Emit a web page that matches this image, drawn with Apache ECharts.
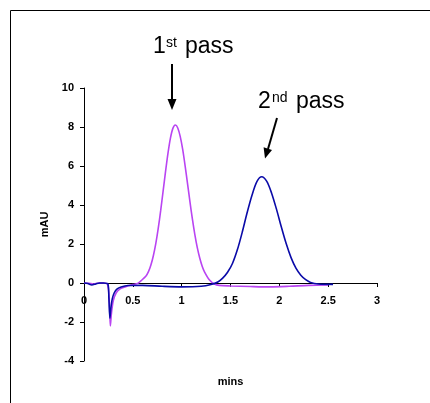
<!DOCTYPE html>
<html>
<head>
<meta charset="utf-8">
<script src="https://cdn.jsdelivr.net/npm/echarts@6/dist/echarts.min.js"></script>
<style>
  html, body { margin: 0; padding: 0; background: #fff; }
  #chart { width: 430px; height: 403px; }
</style>
</head>
<body>
<div id="chart"></div>
<script>
// 1st pass (magenta) trace, [mins, mAU]
const firstPass = [
  [0, 0], [0.05, -0.02], [0.1, -0.05], [0.15, 0], [0.2, 0], [0.24, -0.05],
  [0.26, -1.0], [0.27, -2.2], [0.28, -1.6], [0.3, -0.9], [0.33, -0.5], [0.37, -0.3],
  [0.42, -0.2], [0.5, -0.08], [0.55, -0.02], [0.585, 0.12], [0.635, 0.36], [0.66, 0.58],
  [0.685, 0.92], [0.71, 1.4], [0.735, 2.02], [0.76, 2.8], [0.785, 3.71], [0.81, 4.71],
  [0.835, 5.72], [0.86, 6.66], [0.885, 7.43], [0.91, 7.93], [0.935, 8.1], [0.96, 7.95],
  [0.985, 7.52], [1.01, 6.86], [1.035, 6.02], [1.06, 5.1], [1.085, 4.16], [1.11, 3.27],
  [1.135, 2.48], [1.16, 1.81], [1.185, 1.28], [1.21, 0.86], [1.235, 0.56], [1.285, 0.15],
  [1.335, -0.05], [1.385, -0.12], [1.5, -0.15], [1.7, -0.18], [1.9, -0.2], [2.1, -0.17],
  [2.3, -0.12], [2.5, -0.1]
];
// 2nd pass (blue) trace
const secondPass = [
  [0, 0], [0.04, -0.03], [0.08, -0.1], [0.12, -0.05], [0.16, 0], [0.2, 0],
  [0.245, -0.05], [0.255, -0.8], [0.265, -1.8], [0.275, -1.3], [0.29, -0.8], [0.31, -0.5],
  [0.34, -0.3], [0.38, -0.2], [0.45, -0.13], [0.6, -0.12], [0.8, -0.17], [1.0, -0.2],
  [1.2, -0.17], [1.3, -0.08], [1.37, 0.05], [1.42, 0.25], [1.47, 0.55], [1.52, 1.0],
  [1.57, 1.7], [1.62, 2.6], [1.67, 3.6], [1.72, 4.5], [1.77, 5.2], [1.82, 5.45],
  [1.87, 5.22], [1.92, 4.62], [1.97, 3.8], [2.02, 2.88], [2.07, 2.02], [2.12, 1.3],
  [2.17, 0.76], [2.22, 0.4], [2.27, 0.17], [2.32, 0.03], [2.4, -0.05], [2.55, -0.07]
];

const chart = echarts.init(document.getElementById('chart'));
const font = 'Liberation Sans, Arial, sans-serif';
const txt = (x, y, text, size) => ({
  type: 'text', left: x, top: y,
  style: { text: text, font: size + 'px ' + font, fill: '#000' }
});

chart.setOption({
  animation: false,
  grid: { left: 84, right: 53, top: 88, bottom: 42, outerBoundsMode: 'none' },
  xAxis: {
    type: 'value', min: 0, max: 3, interval: 0.5,
    // axis sits on y = 0 (78px above the grid bottom)
    offset: -78,
    name: 'mins', nameLocation: 'middle', nameGap: 93,
    nameTextStyle: { fontFamily: font, fontWeight: 'bold', fontSize: 11, color: '#000' },
    axisLine: { onZero: false, lineStyle: { color: '#000', width: 1 } },
    axisTick: { length: 4, lineStyle: { color: '#000' } },
    axisLabel: { margin: 12, fontFamily: font, fontWeight: 'bold', fontSize: 11, color: '#000' },
    splitLine: { show: false }
  },
  yAxis: {
    type: 'value', min: -4, max: 10, interval: 2,
    name: 'mAU', nameLocation: 'middle', nameGap: 27,
    nameTextStyle: { fontFamily: font, fontWeight: 'bold', fontSize: 11, color: '#000' },
    axisLine: { show: true, lineStyle: { color: '#000', width: 1 } },
    axisTick: { show: true, length: 4, lineStyle: { color: '#000' } },
    axisLabel: { margin: 10, fontFamily: font, fontWeight: 'bold', fontSize: 11, color: '#000' },
    splitLine: { show: false }
  },
  series: [
    {
      name: '1st pass', type: 'line', data: firstPass, smooth: 0.3, showSymbol: false,
      lineStyle: { color: '#b944f2', width: 1.6 }, z: 2
    },
    {
      name: '2nd pass', type: 'line', data: secondPass, smooth: 0.3, showSymbol: false,
      lineStyle: { color: '#0a0aa8', width: 1.6 }, z: 3
    }
  ],
  graphic: [
    { type: 'rect', shape: { x: 10.5, y: 10.5, width: 440, height: 420 },
      style: { fill: 'none', stroke: '#000', lineWidth: 1 } },
    txt(153, 35, '1', 23), txt(166, 36, 'st', 14), txt(185, 35, 'pass', 23),
    txt(258, 90, '2', 23), txt(272, 91, 'nd', 14), txt(296, 90, 'pass', 23),
    { type: 'line', shape: { x1: 172, y1: 64, x2: 172, y2: 100 },
      style: { stroke: '#000', lineWidth: 2 } },
    { type: 'polygon', shape: { points: [[167.5, 99], [176.5, 99], [172, 110]] },
      style: { fill: '#000' } },
    { type: 'line', shape: { x1: 277, y1: 118, x2: 268, y2: 149 },
      style: { stroke: '#000', lineWidth: 2 } },
    { type: 'polygon', shape: { points: [[272, 150], [263.6, 147.3], [265, 158.5]] },
      style: { fill: '#000' } }
  ]
});
</script>
</body>
</html>
